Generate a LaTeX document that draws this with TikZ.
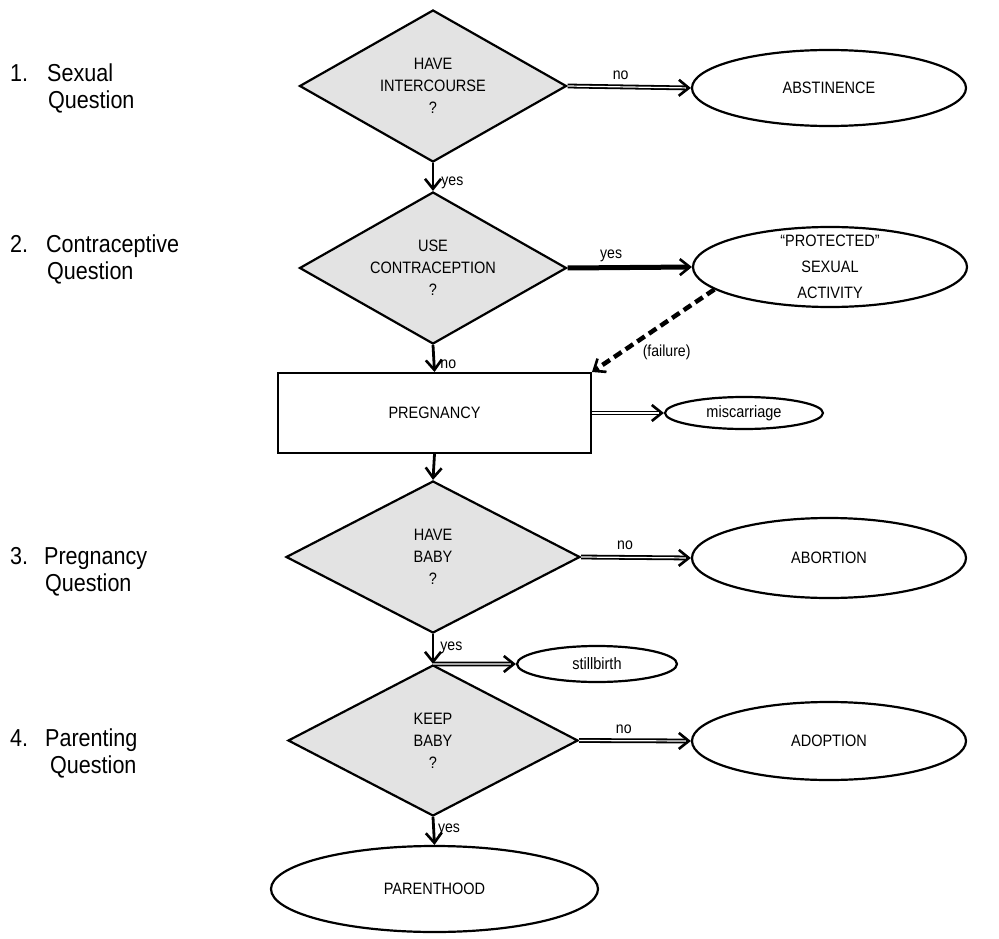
\documentclass[tikz,border=0pt]{standalone}
\usepackage{fontspec}
\setmainfont{Liberation Sans}[FakeStretch=0.88]
\usetikzlibrary{arrows.meta,shapes.geometric,positioning}

\tikzset{
  question/.style={diamond,draw,line width=2.2pt,fill=gray!22,inner sep=0pt,aspect=1.8,
    align=center,font=\fontsize{16.5}{22}\selectfont},
  outcome/.style={ellipse,draw,line width=2.2pt,inner sep=0pt,align=center,
    font=\fontsize{16.5}{26}\selectfont},
  stepbox/.style={rectangle,draw,line width=2pt,inner sep=0pt,
    font=\fontsize{16.5}{22}\selectfont},
  flow/.style={line width=2.8pt,-{Straight Barb[length=10pt,width=16pt,line width=2.6pt]}},
  branch/.style={line width=4.8pt,-{Straight Barb[length=10pt,width=16pt,line width=2.6pt]},
    postaction={draw=white,line width=1.2pt,-,shorten >=5pt}},
  lbl/.style={font=\fontsize{16}{18}\selectfont,inner sep=2pt},
  side/.style={font=\fontsize{24.5}{27}\selectfont,align=left,inner sep=0pt}
}

\begin{document}
\begin{tikzpicture}[x=1pt,y=-1pt]
  \useasboundingbox (0,0) rectangle (999,939);

  \node[side,anchor=west] (s1) at (10,88.5) {1.\hspace*{19pt}Sexual\\\hspace*{38pt}Question};
  \node[side,anchor=west] (s2) at (10,259.5) {2.\hspace*{18pt}Contraceptive\\\hspace*{37pt}Question};
  \node[side,anchor=west] (s3) at (10,571.5) {3.\hspace*{16pt}Pregnancy\\\hspace*{35pt}Question};
  \node[side,anchor=west] (s4) at (10,753) {4.\hspace*{17pt}Parenting\\\hspace*{40pt}Question};

  \node[question,minimum width=267pt,minimum height=152pt] (inter) at (433,86) {HAVE\\INTERCOURSE\\?};
  \node[question,minimum width=267pt,minimum height=152pt] (contra) at (433,268) {USE\\CONTRACEPTION\\?};
  \node[stepbox,minimum width=313pt,minimum height=80pt] (preg) at (434.5,413) {PREGNANCY};
  \node[question,minimum width=294pt,minimum height=152pt] (baby) at (433,557) {HAVE\\BABY\\?};
  \node[question,minimum width=290pt,minimum height=151pt] (keep) at (433,740.5) {KEEP\\BABY\\?};

  \node[outcome,minimum width=274pt,minimum height=76pt] (abst) at (829,88) {ABSTINENCE};
  \node[outcome,minimum width=274pt,minimum height=80pt,inner ysep=-9pt] (prot) at (830,267) {``PROTECTED''\\SEXUAL\\ACTIVITY};
  \node[outcome,minimum width=158pt,minimum height=32pt] (misc) at (744,413) {miscarriage};
  \node[outcome,minimum width=160pt,minimum height=36pt] (still) at (597,664) {stillbirth};
  \node[outcome,minimum width=274pt,minimum height=80pt] (abor) at (829,558) {ABORTION};
  \node[outcome,minimum width=274pt,minimum height=78pt] (adop) at (829,741) {ADOPTION};
  \node[outcome,minimum width=327pt,minimum height=86pt] (parent) at (434.5,889) {PARENTHOOD};

  \draw[branch] (inter.east) -- node[lbl,above,pos=0.43,yshift=3pt] {no} (abst.west);
  \draw[flow] (inter.south) -- node[lbl,right,pos=0.7,xshift=5pt] {yes} (contra.north);
  \draw[line width=5pt,-{Straight Barb[length=10pt,width=16pt,line width=2.6pt]}] (contra.east) -- node[lbl,above,pos=0.35,yshift=1pt] {yes} (prot.west);
  \draw[flow] (contra.south) -- node[lbl,right,pos=0.7,xshift=3pt] {no} (preg.north);
  \draw[line width=4.5pt,dash pattern=on 9pt off 5pt,-{Straight Barb[length=10pt,width=16pt,line width=2.6pt]}] (prot.191) -- node[lbl,anchor=north west,pos=0.62] {(failure)} (preg.north east);
  \draw[branch] (preg.east) -- (misc.west);
  \draw[flow] (preg.south) -- (baby.north);
  \draw[branch] (baby.east) -- node[lbl,above,pos=0.4,yshift=3pt] {no} (abor.west);
  \draw[flow] (baby.south) -- node[lbl,right,pos=0.45,xshift=4pt] {yes} (keep.north);
  \draw[branch] (keep.north) -- (still.west);
  \draw[branch] (keep.east) -- node[lbl,above,pos=0.4,yshift=3pt] {no} (adop.west);
  \draw[flow] (keep.south) -- node[lbl,right,pos=0.45,xshift=1pt] {yes} (parent.north);
\end{tikzpicture}
\end{document}
